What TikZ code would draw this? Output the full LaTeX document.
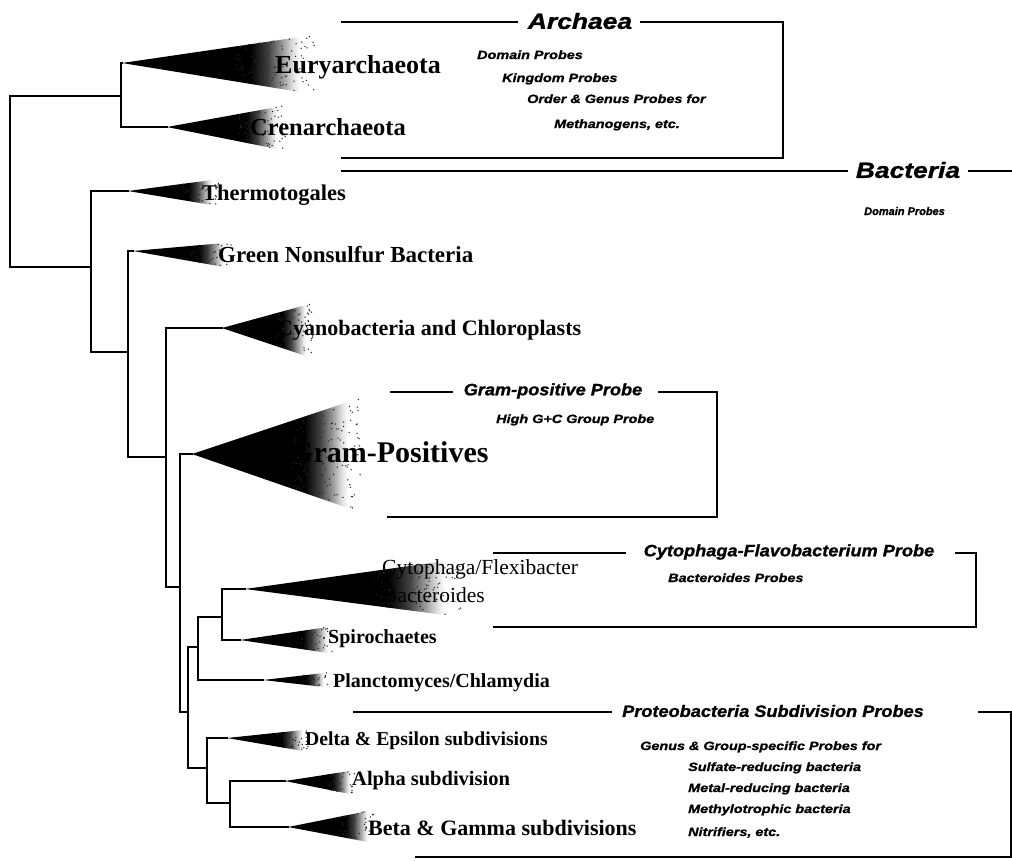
\documentclass[tikz,border=0pt]{standalone}
\usepackage{fontspec}
\setmainfont{Liberation Serif}
\newfontfamily\hdfont[FakeStretch=1.1,FakeBold=1.2]{Liberation Sans}
\newfontfamily\bigsans[FakeStretch=1.2,FakeBold=1.2]{Liberation Sans}
\newfontfamily\plainsans[FakeBold=1.2]{Liberation Sans}
\newcommand\fsz[1]{\fontsize{#1}{#1}\selectfont}
\pgfdeclarehorizontalshading{wedgefade}{100bp}{color(0bp)=(black); color(25bp)=(black); color(61bp)=(black); color(66bp)=(black!75); color(70bp)=(black!40); color(73bp)=(black!12); color(75bp)=(white); color(100bp)=(white)}
% speckles in the fading end of a wedge: apex x, apex y, right x, top y, bottom y, count
\newcommand\speckle[6]{%
  \foreach \i in {1,...,#6}{%
    \pgfmathsetmacro\su{0.64+0.44*rnd}%
    \pgfmathsetmacro\sv{2*rnd-1}%
    \pgfmathsetmacro\spx{#1+\su*(#3-#1)}%
    \pgfmathsetmacro\scy{#2+\su*((#4+#5)/2-#2)}%
    \pgfmathsetmacro\shh{\su*(#5-#4)/2}%
    \pgfmathsetmacro\spy{\scy+\sv*\shh}%
    \fill[black!85] (\spx,\spy) circle (0.75pt);
  }}
\begin{document}
\begin{tikzpicture}[x=1pt,y=-1pt,
  tree/.style={line width=2.8pt, line cap=rect},
  boxline/.style={line width=1.4pt},
  wedge/.style={shading=wedgefade},
  taxon/.style={anchor=base west, inner sep=0pt},
  big/.style={font=\bigsans\bfseries\itshape\fsz{22}, inner sep=0pt},
  head/.style={font=\hdfont\bfseries\itshape\fsz{16.5}, inner sep=0pt},
  small/.style={font=\bigsans\bfseries\itshape\fsz{12}, anchor=base west, inner sep=0pt}]
\useasboundingbox (0,0) rectangle (1012,860);
\fill[white] (0,0) rectangle (1012,860);
\pgfmathsetseed{4242}

% ---------- tree nodes ----------
\coordinate (root) at (10,180);
\coordinate (nA) at (121,96);
\coordinate (nB) at (91,267);
\coordinate (nC) at (128,352);
\coordinate (nD) at (166,457);
\coordinate (nE) at (180,587);
\coordinate (nF) at (188,712);
\coordinate (nG) at (198,647);
\coordinate (nH) at (222,617);
\coordinate (nP) at (207,768);
\coordinate (nQ) at (230,803);
% leaves (wedge apexes)
\coordinate (eury) at (122,63);
\coordinate (cren) at (167,127);
\coordinate (thermo) at (128,191);
\coordinate (green) at (133,251);
\coordinate (cyano) at (222,328);
\coordinate (gram) at (192,454);
\coordinate (cyto) at (245,589);
\coordinate (spiro) at (240,640);
\coordinate (planct) at (263,680);
\coordinate (delta) at (227,738);
\coordinate (alpha) at (285,781);
\coordinate (beta) at (288,827);

% ---------- wedges ----------
\shade[wedge] (eury) -- (300,37) -- (300,92) -- cycle;
\shade[wedge] (cren) -- (277,107) -- (277,149) -- cycle;
\shade[wedge] (thermo) -- (212,180) -- (212,205) -- cycle;
\shade[wedge] (green) -- (224,243) -- (224,267) -- cycle;
\shade[wedge] (cyano) -- (306,305) -- (306,356) -- cycle;
\shade[wedge] (gram) -- (348,402) -- (348,508) -- cycle;
\shade[wedge] (cyto) -- (445,561) -- (445,615) -- cycle;
\shade[wedge] (spiro) -- (328,627) -- (328,653) -- cycle;
\shade[wedge] (planct) -- (324,673) -- (324,687) -- cycle;
\shade[wedge] (delta) -- (303,730) -- (303,751) -- cycle;
\shade[wedge] (alpha) -- (350,771) -- (350,794) -- cycle;
\shade[wedge] (beta) -- (368,811) -- (368,842) -- cycle;
\speckle{122}{63}{300}{37}{92}{90}
\speckle{167}{127}{277}{107}{149}{60}
\speckle{128}{191}{212}{180}{205}{30}
\speckle{133}{251}{224}{243}{267}{30}
\speckle{222}{328}{306}{305}{356}{60}
\speckle{192}{454}{348}{402}{508}{140}
\speckle{245}{589}{445}{561}{615}{90}
\speckle{240}{640}{328}{627}{653}{35}
\speckle{263}{680}{324}{673}{687}{20}
\speckle{227}{738}{303}{730}{751}{30}
\speckle{285}{781}{350}{771}{794}{30}
\speckle{288}{827}{368}{811}{842}{40}

% ---------- branches ----------
\draw[tree] (root) |- (nA);
\draw[tree] (root) |- (nB);
\draw[tree] (nA) |- (eury);
\draw[tree] (nA) |- (cren);
\draw[tree] (nB) |- (thermo);
\draw[tree] (nB) |- (nC);
\draw[tree] (nC) |- (green);
\draw[tree] (nC) |- (nD);
\draw[tree] (nD) |- (cyano);
\draw[tree] (nD) |- (nE);
\draw[tree] (nE) |- (gram);
\draw[tree] (nE) |- (nF);
\draw[tree] (nF) |- (nG);
\draw[tree] (nF) |- (nP);
\draw[tree] (nG) |- (nH);
\draw[tree] (nG) |- (planct);
\draw[tree] (nH) |- (cyto);
\draw[tree] (nH) |- (spiro);
\draw[tree] (nP) |- (delta);
\draw[tree] (nP) |- (nQ);
\draw[tree] (nQ) |- (alpha);
\draw[tree] (nQ) |- (beta);

% ---------- taxon labels ----------
\node[taxon, font=\bfseries\fsz{26}] (tEury) at (275,73) {Euryarchaeota};
\node[taxon, font=\bfseries\fsz{24.5}] (tCren) at (250,135) {Crenarchaeota};
\node[taxon, font=\bfseries\fsz{22.5}] (tThermo) at (202,200) {Thermotogales};
\node[taxon, font=\bfseries\fsz{23}] (tGreen) at (218,262) {Green Nonsulfur Bacteria};
\node[taxon, font=\bfseries\fsz{22}] (tCyano) at (277,335) {Cyanobacteria and Chloroplasts};
\node[taxon, font=\bfseries\fsz{30}] (tGram) at (290,462) {Gram-Positives};
\node[taxon, font=\fsz{21.5}] (tCyto) at (382,574) {Cytophaga/Flexibacter};
\node[taxon, font=\fsz{21.5}] (tBact) at (383,602) {Bacteroides};
\node[taxon, font=\bfseries\fsz{20}] (tSpiro) at (328,643) {Spirochaetes};
\node[taxon, font=\bfseries\fsz{20}] (tPlanct) at (333,687) {Planctomyces/Chlamydia};
\node[taxon, font=\bfseries\fsz{19.7}] (tDelta) at (305,745) {Delta \& Epsilon subdivisions};
\node[taxon, font=\bfseries\fsz{20.5}] (tAlpha) at (352,785) {Alpha subdivision};
\node[taxon, font=\bfseries\fsz{22}] (tBeta) at (368,835) {Beta \& Gamma subdivisions};

% ---------- Archaea box ----------
\node[big] (hArch) at (580,21) {Archaea};
\coordinate (aTL) at (341,22); \coordinate (aL) at (518,22);
\coordinate (aR) at (640,22); \coordinate (aTR) at (783,22);
\coordinate (aBR) at (783,158); \coordinate (aBL) at (341,158);
\draw[boxline] (aTL) -- (aL);
\draw[boxline] (aR) -- (aTR) -- (aBR) -- (aBL);
\node[small] (a1) at (477,59) {Domain Probes};
\node[small] (a2) at (502,82) {Kingdom Probes};
\node[small] (a3) at (527,103) {Order \& Genus Probes for};
\node[small] (a4) at (554,128) {Methanogens, etc.};

% ---------- Bacteria ----------
\node[big] (hBac) at (908,170) {Bacteria};
\coordinate (bL) at (341,171); \coordinate (bL2) at (848,171);
\coordinate (bR) at (968,171); \coordinate (bR2) at (1012,171);
\draw[boxline] (bL) -- (bL2);
\draw[boxline] (bR) -- (bR2);
\node[anchor=base west, inner sep=0pt, font=\plainsans\bfseries\itshape\fsz{11}] (b1) at (864,215) {Domain Probes};

% ---------- Gram-positive box ----------
\node[head] (hGram) at (553,391) {Gram-positive Probe};
\coordinate (gTL) at (390,392); \coordinate (gL) at (453,392);
\coordinate (gR) at (658,392); \coordinate (gTR) at (717,392);
\coordinate (gBR) at (717,517); \coordinate (gBL) at (387,517);
\draw[boxline] (gTL) -- (gL);
\draw[boxline] (gR) -- (gTR) -- (gBR) -- (gBL);
\node[small] (g1) at (496,423) {High G+C Group Probe};

% ---------- Cytophaga box ----------
\node[head] (hCyto) at (789,552) {Cytophaga-Flavobacterium Probe};
\coordinate (cTL) at (493,553); \coordinate (cL) at (626,553);
\coordinate (cR) at (955,553); \coordinate (cTR) at (976,553);
\coordinate (cBR) at (976,627); \coordinate (cBL) at (493,627);
\draw[boxline] (cTL) -- (cL);
\draw[boxline] (cR) -- (cTR) -- (cBR) -- (cBL);
\node[small] (c1) at (668,582) {Bacteroides Probes};

% ---------- Proteobacteria box ----------
\node[head] (hProt) at (773,711) {Proteobacteria Subdivision Probes};
\coordinate (pTL) at (353,712); \coordinate (pL) at (612,712);
\coordinate (pR) at (978,712); \coordinate (pTR) at (1011,712);
\coordinate (pBR) at (1011,857); \coordinate (pBL) at (415,857);
\draw[boxline] (pTL) -- (pL);
\draw[boxline] (pR) -- (pTR) -- (pBR) -- (pBL);
\node[small] (p1) at (640,750) {Genus \& Group-specific Probes for};
\node[small] (p2) at (688,771) {Sulfate-reducing bacteria};
\node[small] (p3) at (688,792) {Metal-reducing bacteria};
\node[small] (p4) at (688,813) {Methylotrophic bacteria};
\node[small] (p5) at (688,836) {Nitrifiers, etc.};
\end{tikzpicture}
\end{document}
